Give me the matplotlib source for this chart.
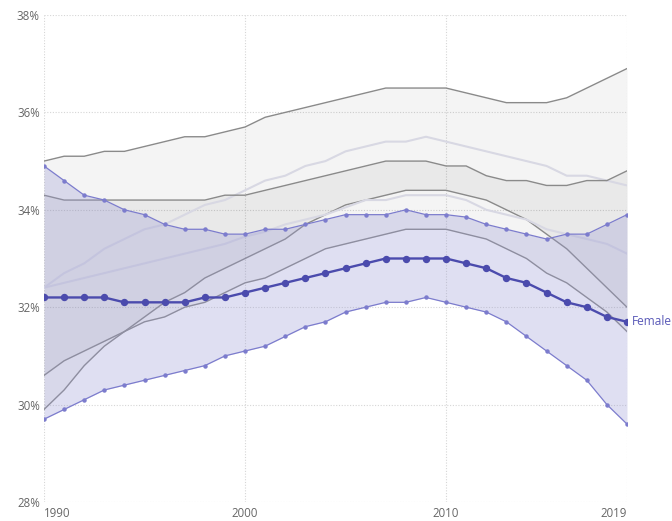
import matplotlib
matplotlib.use("Agg")
import matplotlib.pyplot as plt
import numpy as np

years = list(range(1990, 2020))

female_median = [32.2, 32.2, 32.2, 32.2, 32.1, 32.1, 32.1, 32.1, 32.2, 32.2,
                 32.3, 32.4, 32.5, 32.6, 32.7, 32.8, 32.9, 33.0, 33.0, 33.0,
                 33.0, 32.9, 32.8, 32.6, 32.5, 32.3, 32.1, 32.0, 31.8, 31.7]
female_lower = [29.7, 29.9, 30.1, 30.3, 30.4, 30.5, 30.6, 30.7, 30.8, 31.0,
                31.1, 31.2, 31.4, 31.6, 31.7, 31.9, 32.0, 32.1, 32.1, 32.2,
                32.1, 32.0, 31.9, 31.7, 31.4, 31.1, 30.8, 30.5, 30.0, 29.6]
female_upper = [34.9, 34.6, 34.3, 34.2, 34.0, 33.9, 33.7, 33.6, 33.6, 33.5,
                33.5, 33.6, 33.6, 33.7, 33.8, 33.9, 33.9, 33.9, 34.0, 33.9,
                33.9, 33.85, 33.7, 33.6, 33.5, 33.4, 33.5, 33.5, 33.7, 33.9]

groupA_upper = [35.0, 35.1, 35.1, 35.2, 35.2, 35.3, 35.4, 35.5, 35.5, 35.6,
                35.7, 35.9, 36.0, 36.1, 36.2, 36.3, 36.4, 36.5, 36.5, 36.5,
                36.5, 36.4, 36.3, 36.2, 36.2, 36.2, 36.3, 36.5, 36.7, 36.9]
groupA_median = [32.4, 32.7, 32.9, 33.2, 33.4, 33.6, 33.7, 33.9, 34.1, 34.2,
                 34.4, 34.6, 34.7, 34.9, 35.0, 35.2, 35.3, 35.4, 35.4, 35.5,
                 35.4, 35.3, 35.2, 35.1, 35.0, 34.9, 34.7, 34.7, 34.6, 34.5]
groupA_lower = [29.9, 30.3, 30.8, 31.2, 31.5, 31.8, 32.1, 32.3, 32.6, 32.8,
                33.0, 33.2, 33.4, 33.7, 33.9, 34.1, 34.2, 34.3, 34.4, 34.4,
                34.4, 34.3, 34.2, 34.0, 33.8, 33.5, 33.2, 32.8, 32.4, 32.0]

groupB_upper = [34.3, 34.2, 34.2, 34.2, 34.2, 34.2, 34.2, 34.2, 34.2, 34.3,
                34.3, 34.4, 34.5, 34.6, 34.7, 34.8, 34.9, 35.0, 35.0, 35.0,
                34.9, 34.9, 34.7, 34.6, 34.6, 34.5, 34.5, 34.6, 34.6, 34.8]
groupB_median = [32.4, 32.5, 32.6, 32.7, 32.8, 32.9, 33.0, 33.1, 33.2, 33.3,
                 33.45, 33.55, 33.7, 33.8, 33.9, 34.05, 34.2, 34.2, 34.3, 34.3,
                 34.3, 34.2, 34.0, 33.9, 33.8, 33.6, 33.5, 33.4, 33.3, 33.1]
groupB_lower = [30.6, 30.9, 31.1, 31.3, 31.5, 31.7, 31.8, 32.0, 32.1, 32.3,
                32.5, 32.6, 32.8, 33.0, 33.2, 33.3, 33.4, 33.5, 33.6, 33.6,
                33.6, 33.5, 33.4, 33.2, 33.0, 32.7, 32.5, 32.2, 31.9, 31.5]

x_ticks = [1990, 2000, 2010, 2019]
y_ticks = [28, 30, 32, 34, 36, 38]
series_label = "Female"

plt.rcParams['font.family'] = ['Open Sans', 'DejaVu Sans']

fig = plt.figure(figsize=(6.72, 5.21), dpi=100)
ax = fig.add_axes([44 / 672, 19 / 521, (627 - 44) / 672, (502 - 15) / 521])

# grey groups
for up, med, lo in [(groupA_upper, groupA_median, groupA_lower),
                    (groupB_upper, groupB_median, groupB_lower)]:
    ax.fill_between(years, lo, up, color='black', alpha=0.045, lw=0, zorder=1)
    ax.plot(years, up, color='#8a8a8a', lw=1.0, zorder=2)
    ax.plot(years, lo, color='#8a8a8a', lw=1.0, zorder=2)
    ax.plot(years, med, color='#d8d8e3', lw=1.5, zorder=2)

# female band
ax.fill_between(years, female_lower, female_upper, color='#9898d4', alpha=0.3,
                lw=0, zorder=3)
for b in (female_upper, female_lower):
    ax.plot(years, b, color='#7c7ccd', lw=0.9, marker='o', markersize=2.2,
            zorder=4)
ax.plot(years, female_median, color='#4b4bad', lw=1.7, marker='o',
        markersize=4.3, zorder=5)
ax.annotate(series_label, (years[-1], female_median[-1]), xytext=(3.5, 0),
            textcoords='offset points', va='center', ha='left',
            color='#5a5ab8', fontsize=8.6, annotation_clip=False)

ax.set_xlim(1990, 2019)
ax.set_ylim(28, 38)
ax.set_xticks(x_ticks)
ax.set_xticklabels([str(t) for t in x_ticks])
ax.set_yticks(y_ticks)
ax.set_yticklabels([f"{t}%" for t in y_ticks])
labels = ax.get_xticklabels()
labels[0].set_ha('left')
labels[-1].set_ha('right')
ax.tick_params(length=0, labelsize=8.3, colors='#666666')
ax.tick_params(axis='x', pad=3.5)
ax.tick_params(axis='y', pad=3)
for s in ax.spines.values():
    s.set_visible(False)
ax.grid(True, color='#d6d6d6', linestyle=(0, (1, 1.5)), lw=0.8, zorder=0)
ax.set_axisbelow(True)

fig.savefig('out.png', dpi=100)
